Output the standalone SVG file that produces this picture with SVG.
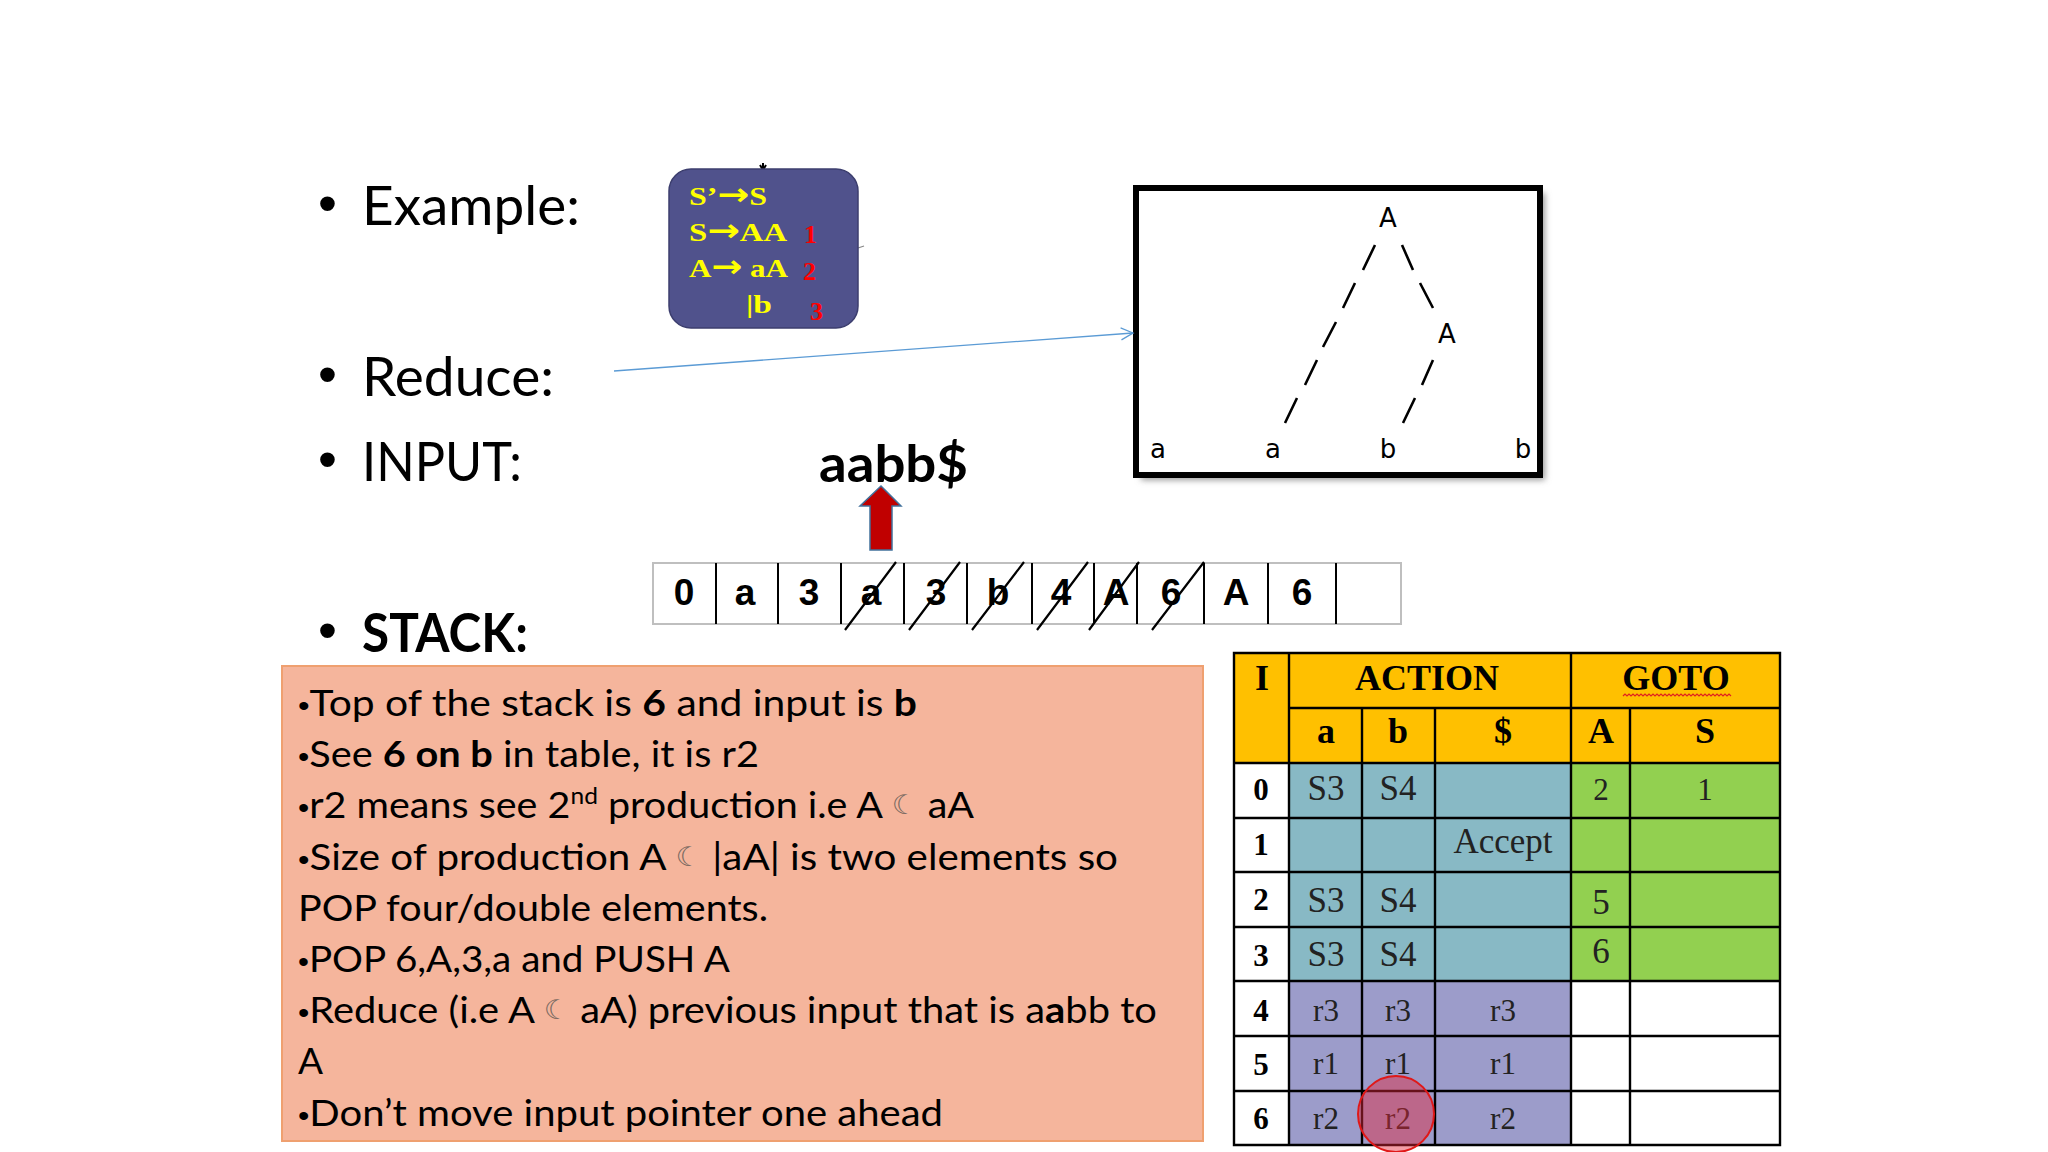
<svg xmlns="http://www.w3.org/2000/svg" width="2048" height="1152" viewBox="0 0 2048 1152">
<defs>
<style>
.h{font-family:Lato,"Open Sans",sans-serif;font-size:54px;fill:#000}
.bl{font-family:"Liberation Sans",Arial,sans-serif;font-size:54px;fill:#000}
.nt{font-family:Lato,"Open Sans",sans-serif;font-size:37px;fill:#000}
.gy{font-family:"Liberation Serif",serif;font-weight:bold;font-size:26px;fill:#ffff00}
.ar{font-family:"DejaVu Sans",sans-serif;font-weight:bold;font-size:31px}
.gr{font-family:"Liberation Serif",serif;font-weight:bold;font-size:26px;fill:#ff0000}
.tr{font-family:"DejaVu Sans",sans-serif;font-size:26px;fill:#000;text-anchor:middle}
.sk{font-family:"Liberation Sans",Arial,sans-serif;font-weight:bold;font-size:37px;fill:#000;text-anchor:middle}
.th{font-family:"Liberation Serif",serif;font-weight:bold;font-size:36px;fill:#000;text-anchor:middle}
.tl{font-family:"Liberation Serif",serif;font-weight:bold;font-size:31px;fill:#000;text-anchor:middle}
.tc{font-family:"Liberation Serif",serif;font-size:35px;fill:#222;text-anchor:middle}
.ts{font-family:"Liberation Serif",serif;font-size:31px;fill:#222;text-anchor:middle}
.dash{stroke:#000;stroke-width:2.6;fill:none}
.tg{stroke:#000;stroke-width:2.4;fill:none}
.moon{font-family:"DejaVu Sans",sans-serif;font-size:27px;fill:#7a6a62}
.sb{font-family:"Liberation Sans",Arial,sans-serif;font-size:30px}
</style>
<filter id="sh" x="-10%" y="-10%" width="130%" height="130%"><feGaussianBlur stdDeviation="3"/></filter>
<marker id="oa" markerWidth="16" markerHeight="14" refX="13" refY="7" orient="auto" markerUnits="userSpaceOnUse"><path d="M1,1 L13,7 L1,13" fill="none" stroke="#5b9bd5" stroke-width="1.3"/></marker>
</defs>
<rect width="2048" height="1152" fill="#fff"/>

<g id="bullets">
<text class="bl" x="318" y="222">•</text><text class="h" x="362" y="225" textLength="218" lengthAdjust="spacingAndGlyphs">Example:</text>
<text class="bl" x="318" y="393">•</text><text class="h" x="362" y="396" textLength="192" lengthAdjust="spacingAndGlyphs">Reduce:</text>
<text class="bl" x="318" y="478">•</text><text class="h" x="362" y="481" textLength="160" lengthAdjust="spacingAndGlyphs">INPUT:</text>
<text class="bl" x="318" y="649">•</text><text class="h" x="362" y="652" font-weight="bold" textLength="166" lengthAdjust="spacingAndGlyphs">STACK:</text>
</g>

<g id="grammar">
<path d="M763,163 L763,169 M760,165 L763,170 L766,165" stroke="#000" stroke-width="2" fill="none"/>
<line x1="858" y1="248" x2="864" y2="246" stroke="#888" stroke-width="1.2"/>
<rect x="669" y="169" width="189" height="159" rx="22" ry="22" fill="#50528c" stroke="#3c3e6e" stroke-width="1.5"/>
<text class="gy" x="689" y="205" textLength="78" lengthAdjust="spacingAndGlyphs">S’<tspan class="ar">→</tspan>S</text>
<text class="gy" x="689" y="241" textLength="98" lengthAdjust="spacingAndGlyphs">S<tspan class="ar">→</tspan>AA</text>
<text class="gy" x="689" y="277" textLength="99" lengthAdjust="spacingAndGlyphs">A<tspan class="ar">→</tspan> aA</text>
<text class="gy" x="746" y="313" textLength="26" lengthAdjust="spacingAndGlyphs">|b</text>
<text class="gr" x="804" y="243" font-size="24">1</text>
<text class="gr" x="803" y="280" font-size="24">2</text>
<text class="gr" x="810" y="320" font-size="28">3</text>
</g>

<g id="tree">
<rect x="1141" y="193" width="404" height="287" fill="#999" filter="url(#sh)"/>
<rect x="1136" y="188" width="404" height="287" fill="#fff" stroke="#000" stroke-width="6"/>
<text class="tr" x="1388" y="227">A</text>
<text class="tr" x="1447" y="343">A</text>
<text class="tr" x="1158" y="458">a</text>
<text class="tr" x="1273" y="458">a</text>
<text class="tr" x="1388" y="458">b</text>
<text class="tr" x="1523" y="458">b</text>
<path class="dash" d="M1375,245 L1363,270 M1355,283 L1343,308 M1336,322 L1323,347 M1317,360 L1305,385 M1297,398 L1285,423"/>
<path class="dash" d="M1402,245 L1413,270 M1420,283 L1433,308"/>
<path class="dash" d="M1433,360 L1422,385 M1415,398 L1403,423"/>
</g>

<g id="input">
<text x="819" y="482" font-family="Lato,'Open Sans',sans-serif" font-weight="bold" font-size="52" textLength="149" lengthAdjust="spacingAndGlyphs">aabb$</text>
</g>

<g id="pointer">
<polygon points="881,486 901,506 892,506 892,550 870,550 870,506 860,506" fill="#c00000" stroke="#41719c" stroke-width="1.5"/>
</g>

<g id="stack">
<rect x="653" y="563" width="748" height="61" fill="#fff" stroke="#bfbfbf" stroke-width="2"/>
<path d="M716,563V624M778,563V624M841,563V624M904,563V624M967,563V624M1032,563V624M1094,563V624M1137,563V624M1204,563V624M1268,563V624M1336,563V624" stroke="#000" stroke-width="2"/>
<text class="sk" x="684" y="605">0</text>
<text class="sk" x="745" y="605">a</text>
<text class="sk" x="809" y="605">3</text>
<text class="sk" x="871" y="605">a</text>
<text class="sk" x="936" y="605">3</text>
<text class="sk" x="998" y="605">b</text>
<text class="sk" x="1061" y="605">4</text>
<text class="sk" x="1116" y="605">A</text>
<text class="sk" x="1171" y="605">6</text>
<text class="sk" x="1236" y="605">A</text>
<text class="sk" x="1302" y="605">6</text>
<path d="M845,630L896,562M909,630L960,562M972,630L1024,562M1037,630L1088,562M1089,630L1139,562M1152,630L1204,562" stroke="#000" stroke-width="2.2"/>
</g>

<g id="notes">
<rect x="282" y="666" width="921" height="475" fill="#f5b59c" stroke="#efa070" stroke-width="2"/>
<text class="nt" x="298" y="716" textLength="619" lengthAdjust="spacingAndGlyphs"><tspan class="sb">•</tspan>Top of the stack  is <tspan font-weight="bold">6</tspan> and  input is <tspan font-weight="bold">b</tspan></text>
<text class="nt" x="298" y="767" textLength="461" lengthAdjust="spacingAndGlyphs"><tspan class="sb">•</tspan>See <tspan font-weight="bold">6 on b</tspan> in table, it is r2</text>
<text class="nt" x="298" y="818" textLength="676" lengthAdjust="spacingAndGlyphs"><tspan class="sb">•</tspan>r2 means see 2<tspan font-size="23" dy="-14">nd</tspan><tspan dy="14"> production i.e A </tspan><tspan class="moon" dy="-4">☾</tspan><tspan dy="4"> aA</tspan></text>
<text class="nt" x="298" y="870" textLength="820" lengthAdjust="spacingAndGlyphs"><tspan class="sb">•</tspan>Size of production A <tspan class="moon" dy="-4">☾</tspan><tspan dy="4"> |aA| is two elements so</tspan></text>
<text class="nt" x="298" y="921" textLength="470" lengthAdjust="spacingAndGlyphs">POP four/double elements.</text>
<text class="nt" x="298" y="972" textLength="432" lengthAdjust="spacingAndGlyphs"><tspan class="sb">•</tspan>POP 6,A,3,a and PUSH A</text>
<text class="nt" x="298" y="1023" textLength="859" lengthAdjust="spacingAndGlyphs"><tspan class="sb">•</tspan>Reduce (i.e A <tspan class="moon" dy="-4">☾</tspan><tspan dy="4"> aA) previous input that is a</tspan><tspan font-weight="bold">a</tspan>bb to</text>
<text class="nt" x="298" y="1074">A</text>
<text class="nt" x="298" y="1126" textLength="645" lengthAdjust="spacingAndGlyphs"><tspan class="sb">•</tspan>Don’t move input pointer one ahead</text>
</g>

<g id="table">
<rect x="1234" y="653" width="546" height="110" fill="#ffc000"/>
<rect x="1234" y="763" width="55" height="382" fill="#fff"/>
<rect x="1289" y="763" width="282" height="218" fill="#88b9c5"/>
<rect x="1571" y="763" width="209" height="218" fill="#92d050"/>
<rect x="1289" y="981" width="282" height="164" fill="#9c9cca"/>
<rect x="1571" y="981" width="209" height="164" fill="#fff"/>
<path class="tg" d="M1234,653H1780V1145H1234Z M1289,653V1145 M1571,653V1145 M1362,708V1145 M1435,708V1145 M1630,708V1145 M1289,708H1780 M1234,763H1780 M1234,818H1780 M1234,872H1780 M1234,927H1780 M1234,981H1780 M1234,1036H1780 M1234,1091H1780"/>
<text class="th" x="1262" y="690">I</text>
<text class="th" x="1427" y="690">ACTION</text>
<text class="th" x="1676" y="690">GOTO</text>
<path d="M1623,696 l2,-2 l2,2 l2,-2 l2,2 l2,-2 l2,2 l2,-2 l2,2 l2,-2 l2,2 l2,-2 l2,2 l2,-2 l2,2 l2,-2 l2,2 l2,-2 l2,2 l2,-2 l2,2 l2,-2 l2,2 l2,-2 l2,2 l2,-2 l2,2 l2,-2 l2,2 l2,-2 l2,2 l2,-2 l2,2 l2,-2 l2,2 l2,-2 l2,2 l2,-2 l2,2 l2,-2 l2,2 l2,-2 l2,2 l2,-2 l2,2 l2,-2 l2,2 l2,-2 l2,2 l2,-2 l2,2 l2,-2 l2,2 l2,-2 l2,2" stroke="#e02020" stroke-width="1.2" fill="none"/>
<text class="th" x="1326" y="743">a</text>
<text class="th" x="1398" y="743">b</text>
<text class="th" x="1503" y="743">$</text>
<text class="th" x="1601" y="743">A</text>
<text class="th" x="1705" y="743">S</text>
<text class="tl" x="1261" y="800">0</text>
<text class="tl" x="1261" y="855">1</text>
<text class="tl" x="1261" y="910">2</text>
<text class="tl" x="1261" y="966">3</text>
<text class="tl" x="1261" y="1021">4</text>
<text class="tl" x="1261" y="1075">5</text>
<text class="tl" x="1261" y="1129">6</text>
<text class="tc" x="1326" y="800">S3</text>
<text class="tc" x="1398" y="800">S4</text>
<text class="ts" x="1601" y="800">2</text>
<text class="ts" x="1705" y="800">1</text>
<text class="tc" x="1503" y="853">Accept</text>
<text class="tc" x="1326" y="912">S3</text>
<text class="tc" x="1398" y="912">S4</text>
<text class="tc" x="1601" y="914">5</text>
<text class="tc" x="1326" y="966">S3</text>
<text class="tc" x="1398" y="966">S4</text>
<text class="tc" x="1601" y="963">6</text>
<text class="ts" x="1326" y="1021">r3</text>
<text class="ts" x="1398" y="1021">r3</text>
<text class="ts" x="1503" y="1021">r3</text>
<text class="ts" x="1326" y="1074">r1</text>
<text class="ts" x="1398" y="1074">r1</text>
<text class="ts" x="1503" y="1074">r1</text>
<text class="ts" x="1326" y="1129">r2</text>
<text class="ts" x="1398" y="1129">r2</text>
<text class="ts" x="1503" y="1129">r2</text>
<circle cx="1396" cy="1114" r="38" fill="rgba(228,40,60,0.45)" stroke="#e01818" stroke-width="2"/>
</g>

<g id="connectors">
<line x1="614" y1="371" x2="1133" y2="333" stroke="#5b9bd5" stroke-width="1.3" marker-end="url(#oa)"/>
</g>
</svg>
